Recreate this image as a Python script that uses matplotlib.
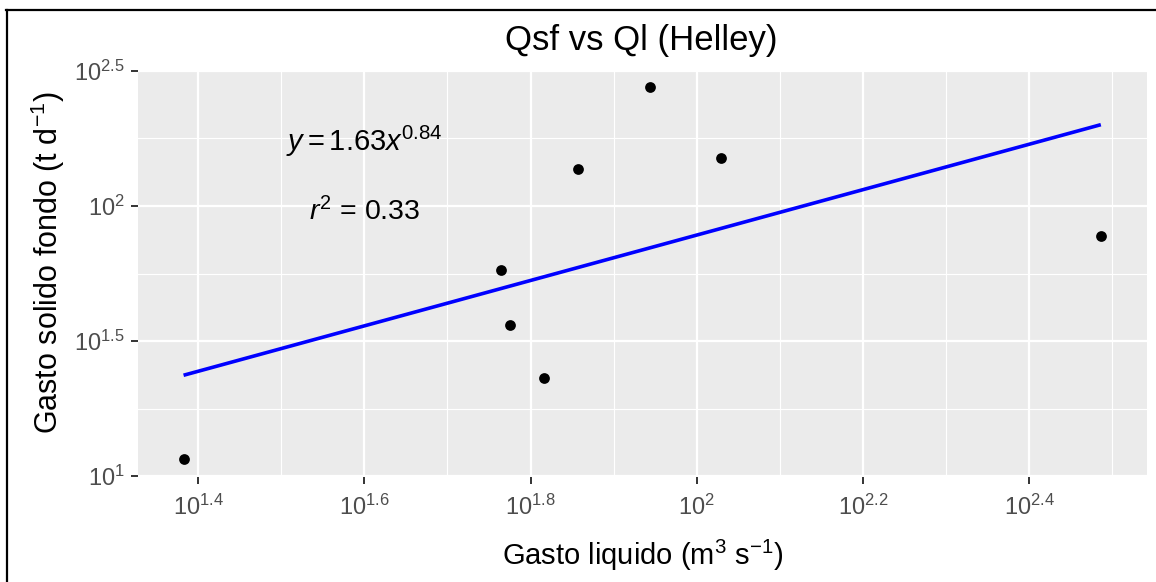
import numpy as np
import matplotlib
matplotlib.use("Agg")
import matplotlib.pyplot as plt
from matplotlib.lines import Line2D
from matplotlib.ticker import FixedLocator, FixedFormatter

plt.rcParams["font.family"] = ["Liberation Sans", "DejaVu Sans"]
plt.rcParams["mathtext.fontset"] = "custom"
plt.rcParams["mathtext.rm"] = "Liberation Sans"
plt.rcParams["mathtext.it"] = "Liberation Sans:italic"
plt.rcParams["mathtext.bf"] = "Liberation Sans:bold"

# Liquid discharge (m3/s) and bed load (t/d), log10 values
log_ql = [1.3824, 1.7647, 1.7747, 1.8157, 1.8570, 1.9434, 2.0298, 2.4864]
log_qsf = [1.0626, 1.7620, 1.5610, 1.3630, 2.1377, 2.4385, 2.1770, 1.8870]

# Power-law fit Qsf = a * Ql^b
fit_a = 1.63
fit_b = 0.84
fit_r2 = 0.33

x_ticks = [1.4, 1.6, 1.8, 2.0, 2.2, 2.4]
x_minor = [1.5, 1.7, 1.9, 2.1, 2.3, 2.5]
y_ticks = [1.0, 1.5, 2.0, 2.5]
y_minor = [1.25, 1.75, 2.25]

ql = 10 ** np.array(log_ql)
qsf = 10 ** np.array(log_qsf)

W, H = 1156, 582


def exp_label(v):
    s = f"{v:g}"
    return r"$\mathregular{10^{" + s + "}}$"


fig = plt.figure(figsize=(W / 100, H / 100), dpi=100)
ax = fig.add_axes([137.7 / W, 1 - 476.7 / H, 1009 / W, 406.4 / H])
ax.set_xscale("log")
ax.set_yscale("log")

ax.set_facecolor("#EBEBEB")
for sp in ax.spines.values():
    sp.set_visible(False)

# fitted line over the observed range
xl = np.array([ql.min(), ql.max()])
ax.plot(xl, fit_a * xl ** fit_b, color="#0000FF", lw=2.6, zorder=3, solid_capstyle="butt")
ax.scatter(ql, qsf, s=60, color="black", zorder=4, linewidths=0)

# axis limits with 5% padding in log space
xr = max(log_ql) - min(log_ql)
ax.set_xlim(10 ** (min(log_ql) - 0.05 * xr), 10 ** (max(log_ql) + 0.05 * xr))
ax.set_ylim(10 ** 0.998, 10 ** 2.502)

ax.xaxis.set_major_locator(FixedLocator([10 ** v for v in x_ticks]))
ax.xaxis.set_major_formatter(FixedFormatter([exp_label(v) for v in x_ticks]))
ax.xaxis.set_minor_locator(FixedLocator([10 ** v for v in x_minor]))
ax.yaxis.set_major_locator(FixedLocator([10 ** v for v in y_ticks]))
ax.yaxis.set_major_formatter(FixedFormatter([exp_label(v) for v in y_ticks]))
ax.yaxis.set_minor_locator(FixedLocator([10 ** v for v in y_minor]))
ax.xaxis.set_minor_formatter(FixedFormatter([""] * len(x_minor)))
ax.yaxis.set_minor_formatter(FixedFormatter([""] * len(y_minor)))

ax.grid(which="major", color="white", lw=1.6)
ax.grid(which="minor", color="white", lw=0.8)
ax.set_axisbelow(True)
ax.tick_params(which="major", length=5, width=1.4, color="#333333",
               labelcolor="#4D4D4D", labelsize=17)
ax.tick_params(axis="x", which="major", pad=8)
ax.tick_params(axis="y", which="major", pad=4)
ax.tick_params(which="minor", length=0)

# fit annotation
ax.text(10 ** 1.6, 10 ** 2.204, r"$y = 1.63x^{0.84}$", fontsize=21,
        ha="center", va="baseline", zorder=5)
ax.text(10 ** 1.6, 10 ** 1.946, r"$r^{2}$ = %.2f" % fit_r2, fontsize=20.5,
        ha="center", va="baseline", zorder=5)

fig.text(641 / W, 1 - 50 / H, "Qsf vs Ql (Helley)", fontsize=25,
         ha="center", va="baseline")
fig.text(643 / W, 1 - 565 / H, r"Gasto liquido (m$^{3}$ s$^{-1}$)",
         fontsize=21, ha="center", va="baseline")
fig.text(58 / W, 1 - 263 / H, r"Gasto solido fondo (t d$^{-1}$)",
         fontsize=22, ha="center", va="baseline", rotation=90,
         rotation_mode="anchor")

# outer frame (left and top edges)
fig.add_artist(Line2D([7 / W, 7 / W], [0, 1 - 9.5 / H],
                      transform=fig.transFigure, color="black", lw=1.6))
fig.add_artist(Line2D([6.2 / W, 1], [1 - 9.5 / H, 1 - 9.5 / H],
                      transform=fig.transFigure, color="black", lw=1.6))

fig.savefig("out.png", dpi=100)
